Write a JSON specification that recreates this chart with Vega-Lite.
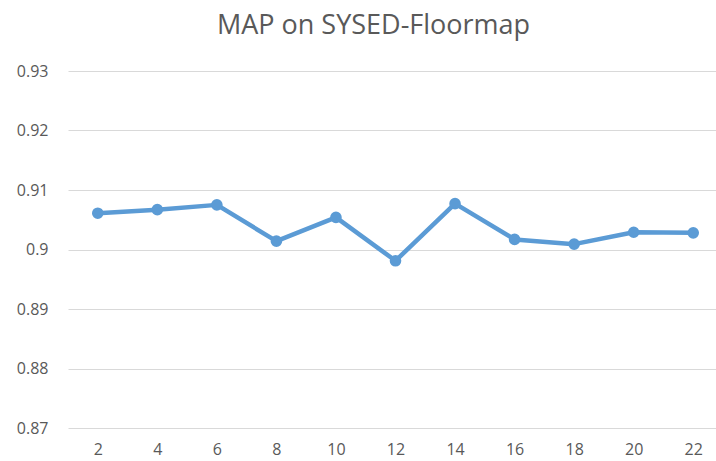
{
  "$schema": "https://vega.github.io/schema/vega-lite/v6.json",
  "autosize": {"type": "none"},
  "padding": {"left": 68, "top": 71, "right": 0, "bottom": 34},
  "width": 655,
  "height": 357,
  "background": "white",
  "config": {
    "view": {"stroke": null},
    "font": "Open Sans"
  },
  "title": {
    "text": "MAP on SYSED-Floormap",
    "fontSize": 27,
    "fontWeight": "normal",
    "color": "#595959",
    "font": "Open Sans",
    "anchor": "middle",
    "dx": -22,
    "offset": 23
  },
  "data": {
    "values": [
      {"k": 2, "map": 0.9061},
      {"k": 4, "map": 0.9067},
      {"k": 6, "map": 0.9075},
      {"k": 8, "map": 0.9014},
      {"k": 10, "map": 0.9054},
      {"k": 12, "map": 0.8981},
      {"k": 14, "map": 0.9077},
      {"k": 16, "map": 0.9017},
      {"k": 18, "map": 0.9009},
      {"k": 20, "map": 0.9029},
      {"k": 22, "map": 0.9028}
    ]
  },
  "encoding": {
    "x": {
      "field": "k",
      "type": "ordinal",
      "scale": {"type": "point", "padding": 0.5},
      "axis": {
        "title": null,
        "labelAngle": 0,
        "domain": false,
        "ticks": false,
        "grid": false,
        "labelFontSize": 16,
        "labelColor": "#595959",
        "labelPadding": 13,
        "labelFont": "Open Sans"
      }
    },
    "y": {
      "field": "map",
      "type": "quantitative",
      "scale": {"domain": [0.87, 0.93], "zero": false, "nice": false},
      "axis": {
        "title": null,
        "values": [0.87, 0.88, 0.89, 0.9, 0.91, 0.92, 0.93],
        "format": ".2~f",
        "domain": false,
        "ticks": false,
        "grid": true,
        "gridColor": "#D9D9D9",
        "gridWidth": 1,
        "labelFontSize": 16,
        "labelColor": "#595959",
        "labelPadding": 20,
        "labelFont": "Open Sans"
      }
    }
  },
  "layer": [
    {
      "mark": {"type": "line", "color": "#5B9BD5", "strokeWidth": 4.5, "strokeCap": "round", "strokeJoin": "round"}
    },
    {
      "mark": {"type": "point", "filled": true, "color": "#5B9BD5", "size": 135, "opacity": 1}
    }
  ]
}
